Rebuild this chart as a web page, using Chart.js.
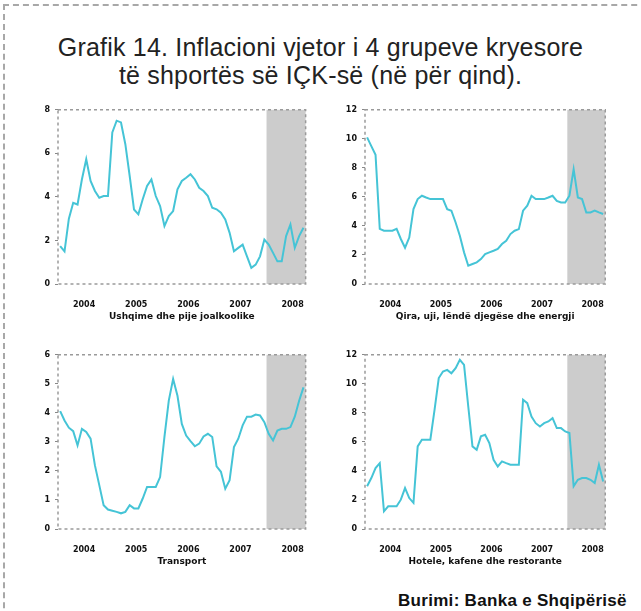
<!DOCTYPE html>
<html>
<head>
<meta charset="utf-8">
<script src="https://cdn.jsdelivr.net/npm/chart.js@4.4.0/dist/chart.umd.min.js"></script>
<style>
html, body { margin: 0; padding: 0; width: 641px; height: 611px; overflow: hidden; background: #fff; }
#frame { position: absolute; left: 3px; top: 4px; width: 700px; height: 700px; border: 2px dashed #a8a8a8; }
h1 { position: absolute; left: 0; top: 33px; width: 641px; margin: 0; text-align: center;
     font: normal 25px "Liberation Sans", sans-serif; line-height: 28px; color: #222; letter-spacing: 0.2px; }
canvas { position: absolute; }
#src { position: absolute; left: 398px; top: 591px; font: bold 17px "Liberation Sans", sans-serif; color: #111; letter-spacing: 0.3px; }
</style>
</head>
<body>
<div id="frame"></div>
<h1>Grafik 14. Inflacioni vjetor i 4 grupeve kryesore<br>të shportës së IÇK-së (në për qind).</h1>
<canvas id="c1" style="left:28px;top:100px" width="284" height="224"></canvas>
<canvas id="c2" style="left:335px;top:100px" width="277" height="224"></canvas>
<canvas id="c3" style="left:28px;top:345px" width="284" height="224"></canvas>
<canvas id="c4" style="left:335px;top:345px" width="277" height="224"></canvas>
<div id="src">Burimi: Banka e Shqipërisë</div>
<script>
// years on the x axis, monthly data from Jan of the first year
var years = ['2004', '2005', '2006', '2007', '2008'];
var monthNames = ['Jan', 'Shk', 'Mar', 'Pri', 'Maj', 'Qer', 'Kor', 'Gus', 'Sht', 'Tet', 'Nën', 'Dhj'];
var months = [];
years.forEach(function (y) { monthNames.forEach(function (m) { months.push(m + ' ' + y); }); });
months = months.slice(0, 57);
var shadeFrom = 48; // start of the current year (months index)

var food = [1.74, 1.5, 3.0, 3.73, 3.65, 4.8, 5.73, 4.73, 4.27, 3.96, 4.04, 4.04,
            6.96, 7.5, 7.42, 6.42, 4.96, 3.42, 3.2, 3.89, 4.5, 4.8, 4.04, 3.58,
            2.66, 3.12, 3.35, 4.35, 4.73, 4.88, 5.04, 4.8, 4.42, 4.27, 4.04, 3.5,
            3.43, 3.27, 2.96, 2.35, 1.5, 1.66, 1.81, 1.27, 0.74, 0.89, 1.27, 2.04,
            1.81, 1.43, 1.04, 1.04, 2.2, 2.73, 1.66, 2.2, 2.58];
var housing = [10.1, 9.5, 8.9, 3.8, 3.67, 3.67, 3.67, 3.8, 3.1, 2.5, 3.2, 5.16,
               5.85, 6.08, 5.96, 5.85, 5.85, 5.85, 5.85, 5.16, 5.05, 4.24, 3.33, 2.18,
               1.26, 1.38, 1.49, 1.72, 2.06, 2.18, 2.29, 2.41, 2.75, 2.98, 3.44, 3.67,
               3.78, 5.05, 5.39, 6.08, 5.85, 5.85, 5.85, 5.96, 6.08, 5.73, 5.62, 5.62,
               6.08, 7.9, 5.96, 5.85, 4.93, 4.93, 5.05, 4.93, 4.82];
var transport = [4.06, 3.74, 3.49, 3.37, 2.88, 3.45, 3.34, 3.11, 2.19, 1.51, 0.82, 0.67,
                 0.63, 0.59, 0.54, 0.59, 0.82, 0.71, 0.71, 1.05, 1.45, 1.45, 1.45, 1.79,
                 3.17, 4.42, 5.17, 4.59, 3.62, 3.22, 3.03, 2.85, 2.94, 3.19, 3.28, 3.17,
                 2.16, 1.97, 1.39, 1.68, 2.82, 3.11, 3.57, 3.87, 3.87, 3.94, 3.91, 3.68,
                 3.28, 3.05, 3.39, 3.45, 3.45, 3.51, 3.87, 4.42, 4.88];
var hotels = [2.94, 3.51, 4.2, 4.54, 1.22, 1.56, 1.56, 1.56, 2.02, 2.82, 2.13, 1.8,
              5.69, 6.15, 6.15, 6.15, 8.2, 10.4, 10.85, 10.96, 10.73, 11.08, 11.65, 11.3,
              8.44, 5.69, 5.46, 6.38, 6.49, 5.92, 4.77, 4.31, 4.66, 4.54, 4.43, 4.43,
              4.43, 8.9, 8.67, 7.75, 7.29, 7.06, 7.29, 7.41, 7.64, 6.95, 6.95, 6.72,
              6.61, 2.94, 3.39, 3.51, 3.51, 3.39, 3.17, 4.43, 3.28];

var panelTitles = ['Ushqime dhe pije joalkoolike', 'Qira, uji, lëndë djegëse dhe energji',
                   'Transport', 'Hotele, kafene dhe restorante'];

var framePlugin = {
    id: 'frame',
    beforeDatasetsDraw: function (chart) {
        var ctx = chart.ctx, a = chart.chartArea, x = chart.scales.x;
        var s = x.getPixelForValue(shadeFrom);
        ctx.save();
        ctx.fillStyle = '#cccccc';
        ctx.fillRect(s, a.top, a.right - s, a.bottom - a.top);
        ctx.strokeStyle = '#9a9a9a';
        ctx.lineWidth = 1.5;
        ctx.setLineDash([3, 3]);
        ctx.strokeRect(a.left, a.top, a.right - a.left, a.bottom - a.top);
        ctx.restore();
    }
};

function makeChart(id, values, yMax, yStep, title) {
    return new Chart(document.getElementById(id), {
        type: 'line',
        data: {
            datasets: [{
                data: values.map(function (v, i) { return { x: i + 0.5, y: v }; }),
                borderColor: '#45c4d6',
                borderWidth: 2,
                pointRadius: 0,
                tension: 0
            }]
        },
        options: {
            responsive: false,
            animation: false,
            layout: { padding: { top: 9, right: 5 } },
            plugins: { legend: { display: false }, tooltip: { enabled: false } },
            scales: {
                x: {
                    type: 'linear',
                    min: 0,
                    max: months.length,
                    afterBuildTicks: function (s) {
                        s.ticks = years.map(function (y, i) { return { value: i * 12 + 6 }; });
                    },
                    afterFit: function (s) { s.height = 40; },
                    ticks: {
                        autoSkip: false,
                        maxRotation: 0,
                        padding: 8,
                        color: '#111',
                        font: { family: 'DejaVu Sans', size: 8, weight: 'bold' },
                        callback: function (v) { return years[Math.round((v - 6) / 12)]; }
                    },
                    grid: { display: false },
                    border: { display: false },
                    title: {
                        display: true,
                        text: title,
                        color: '#111',
                        padding: { top: 0, bottom: 2 },
                        font: { family: 'DejaVu Sans', size: 9, weight: 'bold' }
                    }
                },
                y: {
                    min: 0,
                    max: yMax,
                    afterFit: function (s) { s.width = 30; },
                    ticks: {
                        stepSize: yStep,
                        padding: 5,
                        color: '#111',
                        font: { family: 'DejaVu Sans', size: 8, weight: 'bold' }
                    },
                    grid: { drawOnChartArea: false, tickLength: 3, color: '#888' },
                    border: { display: false }
                }
            }
        },
        plugins: [framePlugin]
    });
}

makeChart('c1', food, 8, 2, panelTitles[0]);
makeChart('c2', housing, 12, 2, panelTitles[1]);
makeChart('c3', transport, 6, 1, panelTitles[2]);
makeChart('c4', hotels, 12, 2, panelTitles[3]);
</script>
</body>
</html>
